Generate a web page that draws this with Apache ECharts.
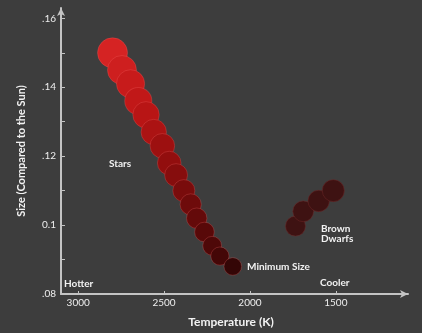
<!DOCTYPE html>
<html>
<head>
<meta charset="utf-8">
<script src="https://cdn.jsdelivr.net/npm/echarts@6/dist/echarts.min.js"></script>
<style>
  html, body { margin: 0; padding: 0; background: #3d3d3d; }
  #chart { width: 422px; height: 333px; }
</style>
</head>
<body>
<div id="chart"></div>
<script>
// temperature (K) and size (compared to the Sun)
var starTemps = [2800, 2745, 2695, 2650, 2605, 2560, 2510, 2470, 2430, 2385, 2345, 2310, 2265, 2220, 2175, 2100]
var starSizes = [0.150, 0.145, 0.141, 0.136, 0.132, 0.127, 0.123, 0.118, 0.1145, 0.110, 0.106, 0.102, 0.098, 0.094, 0.091, 0.088]
var dwarfTemps = [1735, 1690, 1600, 1515]
var dwarfSizes = [0.0997, 0.104, 0.107, 0.110]
var xTicks = [3000, 2500, 2000, 1500]
var yTicks = [0.08, 0.09, 0.10, 0.11, 0.12, 0.13, 0.14, 0.15, 0.16]
var yLabels = [0.08, 0.10, 0.12, 0.14, 0.16]

var font = 'Lato'
var axisGrey = '#c4c4c4'

function zip (a, b) {
  return a.map(function (v, i) { return [v, b[i]] })
}

var chart = echarts.init(document.getElementById('chart'))
var option = {
  backgroundColor: '#3d3d3d',
  animation: false,
  textStyle: { fontFamily: font },
  grid: { left: 61, right: 14, top: 8, bottom: 39 },
  visualMap: {
    show: false,
    type: 'continuous',
    seriesIndex: 0,
    dimension: 0,
    min: 2100,
    max: 2800,
    inRange: { color: ['#340606', '#5a0909', '#8c0d0d', '#be1616', '#d52323'] }
  },
  xAxis: {
    type: 'value',
    inverse: true,
    min: 1080,
    max: 3100,
    name: 'Temperature (K)',
    nameLocation: 'middle',
    nameGap: 22,
    nameTextStyle: { color: '#f2f2f2', fontWeight: 'bold', fontSize: 12, fontFamily: font, padding: [0, 7, 0, 0] },
    axisLine: {
      lineStyle: { color: axisGrey, width: 2 },
      symbol: ['none', 'arrow'],
      symbolSize: [6, 8]
    },
    axisTick: { show: true, inside: true, length: 3, lineStyle: { color: axisGrey, width: 1 }, customValues: xTicks },
    axisLabel: {
      color: '#eeeeee',
      fontSize: 10,
      margin: 4,
      customValues: xTicks,
      formatter: function (v) { return String(v) }
    },
    splitLine: { show: false }
  },
  yAxis: {
    type: 'value',
    min: 0.08,
    max: 0.163,
    name: 'Size (Compared to the Sun)',
    nameLocation: 'middle',
    nameGap: 34,
    nameRotate: 90,
    nameTextStyle: { color: '#f2f2f2', fontWeight: 'bold', fontSize: 11, fontFamily: font },
    axisLine: {
      show: true,
      lineStyle: { color: axisGrey, width: 2 },
      symbol: ['none', 'arrow'],
      symbolSize: [6, 8]
    },
    axisTick: { show: true, inside: true, length: 4, lineStyle: { color: axisGrey, width: 1 }, customValues: yTicks },
    axisLabel: {
      color: '#eeeeee',
      fontSize: 10,
      margin: 5,
      customValues: yLabels,
      formatter: function (v) {
        if (Math.abs(v - 0.1) < 1e-6) return '0.1'
        return v.toFixed(2).replace(/^0/, '')
      }
    },
    splitLine: { show: false }
  },
  series: [
    {
      name: 'Stars',
      type: 'scatter',
      data: zip(starTemps, starSizes),
      symbolSize: function (d) { return d[1] * 200 },
      itemStyle: {
        opacity: 1,
        borderColor: 'rgba(255,110,110,0.25)',
        borderWidth: 1
      },
      z: 3
    },
    {
      name: 'Brown Dwarfs',
      type: 'scatter',
      data: zip(dwarfTemps, dwarfSizes),
      symbolSize: function (d) { return d[1] * 200 },
      itemStyle: {
        color: '#3e1212',
        opacity: 1,
        borderColor: 'rgba(110,40,40,0.5)',
        borderWidth: 1
      },
      z: 3
    }
  ],
  graphic: [
    { type: 'text', left: 109, top: 159, style: { text: 'Stars', fill: '#f2f2f2', font: 'bold 10px Lato' } },
    { type: 'text', left: 247, top: 262, style: { text: 'Minimum Size', fill: '#f2f2f2', font: 'bold 10px Lato' } },
    { type: 'text', left: 321, top: 224, style: { text: 'Brown\nDwarfs', fill: '#f2f2f2', font: 'bold 10px Lato', lineHeight: 10 } },
    { type: 'text', left: 64, top: 279, style: { text: 'Hotter', fill: '#f2f2f2', font: 'bold 10px Lato' } },
    { type: 'text', left: 320, top: 278, style: { text: 'Cooler', fill: '#f2f2f2', font: 'bold 10px Lato' } }
  ]
}
chart.setOption(option)
</script>
</body>
</html>
